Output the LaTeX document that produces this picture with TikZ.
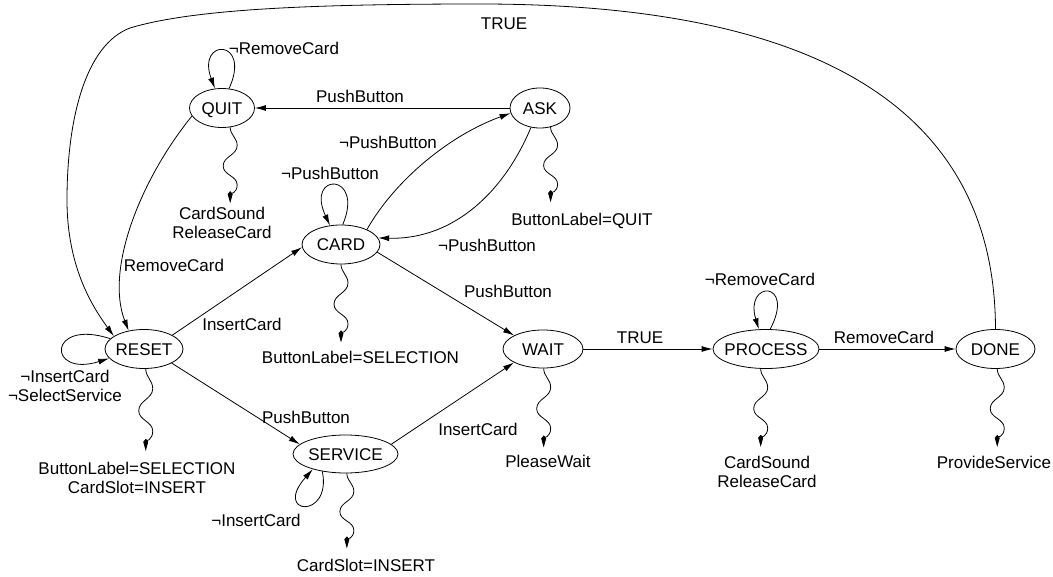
\documentclass[tikz,border=0pt]{standalone}
\usepackage{fontspec}
\setmainfont{Liberation Sans}
\usetikzlibrary{arrows.meta,shapes.geometric}
\begin{document}
\begin{tikzpicture}[x=1pt,y=1pt,
 every node/.style={font=\fontsize{17}{19.5}\selectfont, inner sep=0pt},
 st/.style={draw, ellipse, line width=0.8pt},
 lb/.style={text height=12.2pt, text depth=0pt},
 ml/.style={align=center, anchor=north},
 arr/.style={draw, line width=0.8pt, -{Latex[length=11pt,width=6pt]}},
 wv/.style={draw, line width=0.8pt, -{Kite[length=12pt,width=5pt,inset=3pt]}},
 ]
\useasboundingbox (0,0) rectangle (1053,-577);
% states
\node[st, minimum width=65pt, minimum height=39pt, label={[lb]center:QUIT}] (QUIT) at (222,-108) {};
\node[st, minimum width=60pt, minimum height=40pt, label={[lb]center:ASK}] (ASK) at (540,-108) {};
\node[st, minimum width=78pt, minimum height=39pt, label={[lb]center:CARD}] (CARD) at (341,-244.5) {};
\node[st, minimum width=78pt, minimum height=39pt, label={[lb]center:RESET}] (RESET) at (144,-349) {};
\node[st, minimum width=105pt, minimum height=38pt, label={[lb]center:SERVICE}] (SERVICE) at (345.5,-454) {};
\node[st, minimum width=80pt, minimum height=38pt, label={[lb]center:WAIT}] (WAIT) at (543,-349) {};
\node[st, minimum width=106pt, minimum height=39pt, label={[lb]center:PROCESS}] (PROCESS) at (766,-349) {};
\node[st, minimum width=79pt, minimum height=39pt, label={[lb]center:DONE}] (DONE) at (995.5,-349) {};
% transitions
\draw[arr] (ASK.west) -- (QUIT.east);
\draw[arr] (QUIT.70) .. controls (252,-38) and (196,-38) .. (QUIT.110);
\draw[arr] (QUIT.195) .. controls (140,-180) and (105,-270) .. (RESET.130);
\draw[arr] (DONE.north) .. controls (995,-130) and (850,-4) .. (480,-4)
  .. controls (300,-4) and (190,-10) .. (130,-28)
  .. controls (85,-45) and (67,-120) .. (67,-200)
  .. controls (67,-270) and (95,-310) .. (RESET.157);
\draw[arr] (CARD.85) .. controls (365,-172) and (305,-172) .. (CARD.120);
\draw[arr] (CARD.30) .. controls (395,-180) and (450,-135) .. (ASK.190);
\draw[arr] (ASK.245) .. controls (505,-190) and (455,-240) .. (CARD.10);
\draw[arr] (RESET.26) -- (CARD.184);
\draw[arr] (CARD.-12) -- (WAIT.155);
\draw[arr] (RESET.163) .. controls (47,-318) and (47,-378) .. (RESET.195);
\draw[arr] (RESET.-27) -- (SERVICE.168);
\draw[arr] (SERVICE.12) -- (WAIT.205);
\draw[arr] (SERVICE.217) .. controls (332,-520) and (272,-515) .. (SERVICE.205);
\draw[arr] (WAIT.east) -- (PROCESS.west);
\draw[arr] (PROCESS.78) .. controls (796,-280) and (744,-280) .. (PROCESS.110);
\draw[arr] (PROCESS.east) -- (DONE.west);
% outputs (wavy)
\draw[wv] (QUIT.-67) to[out=-90,in=90] ++(7,-18.2) to[out=-90,in=90] ++(-14,-20.5) to[out=-90,in=90] ++(14,-19) to[out=-90,in=90] ++(-7,-18.2);
\draw[wv] (ASK.-61) to[out=-90,in=90] ++(7,-18) to[out=-90,in=90] ++(-14,-20.25) to[out=-90,in=90] ++(14,-18.75) to[out=-90,in=90] ++(-7,-18);
\draw[wv] (CARD.south) to[out=-90,in=90] ++(7,-18.7) to[out=-90,in=90] ++(-14,-21.1) to[out=-90,in=90] ++(14,-19.5) to[out=-90,in=90] ++(-7,-18.7);
\draw[wv] (RESET.-85) to[out=-90,in=90] ++(7,-19.7) to[out=-90,in=90] ++(-14,-22.1) to[out=-90,in=90] ++(14,-20.5) to[out=-90,in=90] ++(-7,-19.7);
\draw[wv] (SERVICE.-86) to[out=-90,in=90] ++(7,-18) to[out=-90,in=90] ++(-14,-20.25) to[out=-90,in=90] ++(14,-18.75) to[out=-90,in=90] ++(-7,-18);
\draw[wv] (WAIT.-88) to[out=-90,in=90] ++(7,-19) to[out=-90,in=90] ++(-14,-21.3) to[out=-90,in=90] ++(14,-19.75) to[out=-90,in=90] ++(-7,-19);
\draw[wv] (PROCESS.-105) to[out=-90,in=90] ++(7,-18.7) to[out=-90,in=90] ++(-14,-21.1) to[out=-90,in=90] ++(14,-19.5) to[out=-90,in=90] ++(-7,-18.7);
\draw[wv] (DONE.-85) to[out=-90,in=90] ++(7,-18.7) to[out=-90,in=90] ++(-14,-21.1) to[out=-90,in=90] ++(14,-19.5) to[out=-90,in=90] ++(-7,-18.7);
% labels
\node[lb] (tTRUE) at (504,-23) {TRUE};
\node[lb] (tQloop) at (284,-48) {¬RemoveCard};
\node[lb] (tQA) at (360,-96) {PushButton};
\node[lb] (tCA) at (388,-142) {¬PushButton};
\node[lb] (tCloop) at (330,-173) {¬PushButton};
\node[ml] (tQout) at (222,-206.5) {CardSound\\ReleaseCard};
\node[lb] (tQR) at (174,-265) {RemoveCard};
\node[lb] (tRC) at (242,-324) {InsertCard};
\node[ml] (tRloop) at (65,-369.9) {¬InsertCard\\¬SelectService};
\node[lb] (tRS) at (306,-417) {PushButton};
\node[lb] (tSW) at (478,-429) {InsertCard};
\node[lb] (tSloop) at (256,-520) {¬InsertCard};
\node[lb] (tSout) at (366,-565) {CardSlot=INSERT};
\node[ml] (tRout) at (137,-461.9) {ButtonLabel=SELECTION\\CardSlot=INSERT};
\node[lb] (tCout) at (360.5,-357) {ButtonLabel=SELECTION};
\node[lb] (tAout) at (582,-219) {ButtonLabel=QUIT};
\node[lb] (tAC) at (487,-245) {¬PushButton};
\node[lb] (tCW) at (508,-291) {PushButton};
\node[lb] (tWP) at (640,-337) {TRUE};
\node[lb] (tWout) at (548,-461) {PleaseWait};
\node[lb] (tPloop) at (760,-279) {¬RemoveCard};
\node[lb] (tPD) at (884,-337) {RemoveCard};
\node[ml] (tPout) at (767,-455.9) {CardSound\\ReleaseCard};
\node[lb] (tDout) at (994,-462) {ProvideService};
\end{tikzpicture}
\end{document}
